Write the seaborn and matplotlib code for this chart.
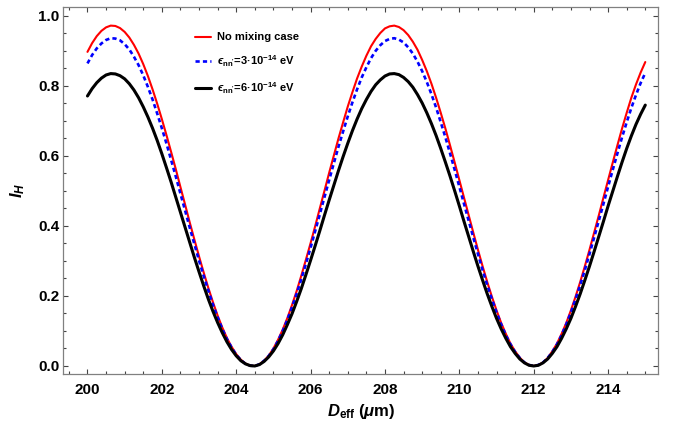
import numpy as np
import pandas as pd
import matplotlib
matplotlib.use("Agg")
import matplotlib.pyplot as plt
import seaborn as sns
from matplotlib.ticker import MultipleLocator, FormatStrFormatter

# ---- data ----
d_eff = np.round(np.arange(200.0, 215.001, 0.125), 3)

no_mixing = [0.897, 0.922, 0.942, 0.957, 0.967, 0.972, 0.971, 0.965, 0.954, 0.938,
             0.917, 0.892, 0.862, 0.828, 0.790, 0.749, 0.705, 0.659, 0.611, 0.562,
             0.511, 0.461, 0.410, 0.361, 0.313, 0.267, 0.223, 0.182, 0.144, 0.110,
             0.080, 0.055, 0.034, 0.018, 0.007, 0.001, 0.000, 0.005, 0.015, 0.030,
             0.050, 0.075, 0.104, 0.137, 0.174, 0.214, 0.258, 0.304, 0.351, 0.400,
             0.451, 0.501, 0.552, 0.601, 0.650, 0.696, 0.741, 0.782, 0.821, 0.855,
             0.886, 0.913, 0.934, 0.951, 0.964, 0.970, 0.972, 0.968, 0.959, 0.945,
             0.926, 0.903, 0.874, 0.842, 0.806, 0.766, 0.723, 0.678, 0.630, 0.581,
             0.531, 0.481, 0.431, 0.381, 0.332, 0.285, 0.240, 0.198, 0.159, 0.123,
             0.092, 0.064, 0.042, 0.024, 0.010, 0.003, 0.000, 0.003, 0.010, 0.023,
             0.042, 0.064, 0.092, 0.123, 0.159, 0.198, 0.240, 0.285, 0.332, 0.381,
             0.430, 0.481, 0.531, 0.581, 0.630, 0.678, 0.723, 0.766, 0.804, 0.838,
             0.868]

eps_3e14 = [0.864, 0.888, 0.907, 0.921, 0.931, 0.936, 0.935, 0.930, 0.919, 0.904,
            0.883, 0.859, 0.830, 0.797, 0.761, 0.721, 0.679, 0.635, 0.588, 0.541,
            0.492, 0.444, 0.395, 0.348, 0.301, 0.257, 0.215, 0.175, 0.139, 0.106,
            0.077, 0.053, 0.032, 0.017, 0.006, 0.001, 0.000, 0.005, 0.015, 0.029,
            0.048, 0.072, 0.100, 0.132, 0.168, 0.206, 0.248, 0.292, 0.338, 0.386,
            0.434, 0.483, 0.531, 0.579, 0.626, 0.670, 0.713, 0.753, 0.790, 0.824,
            0.853, 0.879, 0.900, 0.916, 0.928, 0.934, 0.936, 0.932, 0.924, 0.910,
            0.892, 0.869, 0.842, 0.811, 0.776, 0.738, 0.696, 0.653, 0.607, 0.560,
            0.512, 0.463, 0.415, 0.367, 0.320, 0.274, 0.231, 0.191, 0.153, 0.119,
            0.088, 0.062, 0.040, 0.023, 0.010, 0.003, 0.000, 0.003, 0.010, 0.023,
            0.040, 0.062, 0.088, 0.119, 0.153, 0.191, 0.231, 0.274, 0.320, 0.367,
            0.415, 0.463, 0.512, 0.560, 0.607, 0.653, 0.696, 0.737, 0.774, 0.808,
            0.837]

eps_6e14 = [0.771, 0.792, 0.809, 0.822, 0.831, 0.835, 0.834, 0.829, 0.820, 0.806,
            0.788, 0.766, 0.740, 0.711, 0.679, 0.644, 0.606, 0.566, 0.525, 0.482,
            0.439, 0.396, 0.353, 0.310, 0.269, 0.229, 0.191, 0.156, 0.124, 0.095,
            0.069, 0.047, 0.029, 0.015, 0.006, 0.001, 0.000, 0.004, 0.013, 0.026,
            0.043, 0.064, 0.089, 0.118, 0.149, 0.184, 0.221, 0.261, 0.302, 0.344,
            0.387, 0.431, 0.474, 0.516, 0.558, 0.598, 0.636, 0.672, 0.705, 0.735,
            0.761, 0.784, 0.803, 0.817, 0.828, 0.834, 0.835, 0.832, 0.824, 0.812,
            0.796, 0.775, 0.751, 0.723, 0.692, 0.658, 0.621, 0.582, 0.542, 0.500,
            0.457, 0.413, 0.370, 0.327, 0.285, 0.245, 0.206, 0.170, 0.136, 0.106,
            0.079, 0.055, 0.036, 0.020, 0.009, 0.002, 0.000, 0.002, 0.009, 0.020,
            0.036, 0.055, 0.079, 0.106, 0.136, 0.170, 0.206, 0.245, 0.285, 0.327,
            0.370, 0.413, 0.457, 0.499, 0.541, 0.582, 0.621, 0.657, 0.690, 0.719,
            0.745]

labels = ["No mixing case",
          r"$ϵ_{\mathrm{nn'}}$=3·10$^{-14}$ eV",
          r"$ϵ_{\mathrm{nn'}}$=6·10$^{-14}$ eV"]
x_ticks = [200, 202, 204, 206, 208, 210, 212, 214]
y_ticks = [0.0, 0.2, 0.4, 0.6, 0.8, 1.0]

# ---- style ----
sns.set_style("white")
plt.rcParams["font.family"] = ["Liberation Sans", "DejaVu Sans"]
plt.rcParams["font.weight"] = "bold"
plt.rcParams["text.color"] = "black"
plt.rcParams["axes.labelcolor"] = "black"
plt.rcParams["mathtext.fontset"] = "custom"
plt.rcParams["mathtext.rm"] = "Liberation Sans:bold"
plt.rcParams["mathtext.bf"] = "Liberation Sans:bold"
plt.rcParams["mathtext.it"] = "Liberation Sans:italic:bold"
plt.rcParams["mathtext.sf"] = "Liberation Sans:bold"
plt.rcParams["mathtext.fallback"] = "stixsans"

fig = plt.figure(figsize=(6.74, 4.30), dpi=100)
ax = fig.add_axes([63.3 / 674, (430 - 373.7) / 430, 595 / 674, 367 / 430])

sns.lineplot(x=d_eff, y=no_mixing, ax=ax, color="#ff0000", lw=1.5, label=labels[0])
sns.lineplot(x=d_eff, y=eps_3e14, ax=ax, color="#0000ff", lw=1.9, label=labels[1])
sns.lineplot(x=d_eff, y=eps_6e14, ax=ax, color="#000000", lw=2.2, label=labels[2])
ax.lines[1].set_dashes((1.6, 1.2))

ax.set_xlim(199.35, 215.35)
ax.set_ylim(-0.022, 1.026)
ax.set_xticks(x_ticks)
ax.set_yticks(y_ticks)
ax.xaxis.set_minor_locator(MultipleLocator(0.5))
ax.yaxis.set_minor_locator(MultipleLocator(0.05))
ax.yaxis.set_major_formatter(FormatStrFormatter("%.1f"))

for s in ax.spines.values():
    s.set_color("#808080")
    s.set_linewidth(0.9)

ax.tick_params(which="both", direction="in", top=True, right=True, bottom=True, left=True,
               color="#444444", width=0.8, labelsize=11, labelcolor="black")
ax.tick_params(which="major", length=3.8)
ax.tick_params(which="minor", length=2.2)
ax.tick_params(axis="x", which="major", pad=6.5)
ax.tick_params(axis="y", which="major", pad=3)
for t in ax.get_xticklabels() + ax.get_yticklabels():
    t.set_fontweight("bold")

ax.set_xlabel(r"$D_{\mathrm{eff}}$ ($\mu$m)", fontsize=12, fontweight="bold", labelpad=4)
ax.set_ylabel(r"$I_{H}$", fontsize=12, fontweight="bold", labelpad=8)

leg = ax.legend(loc="upper left", bbox_to_anchor=(0.221, 0.93), frameon=False,
                fontsize=8, handlelength=1.5, handletextpad=0.5, labelspacing=1.0,
                borderpad=0, borderaxespad=0)
for t in leg.get_texts():
    t.set_fontweight("bold")

fig.savefig("out.png", dpi=100)
